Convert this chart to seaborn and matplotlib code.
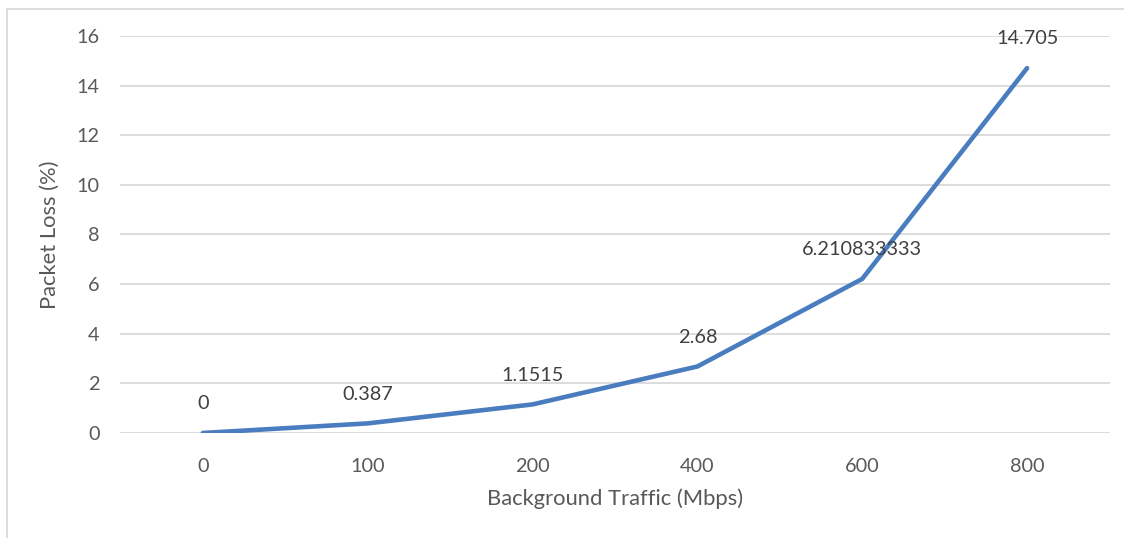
import matplotlib
matplotlib.use("Agg")
import matplotlib.pyplot as plt
import matplotlib.patches as mpatches
import pandas as pd
import seaborn as sns

# Data
traffic = ["0", "100", "200", "400", "600", "800"]
packet_loss = [0, 0.387, 1.1515, 2.68, 6.210833333, 14.705]
point_labels = ["0", "0.387", "1.1515", "2.68", "6.210833333", "14.705"]

df = pd.DataFrame({"traffic": traffic, "loss": packet_loss})

sns.set_style("white")
plt.rcParams['font.family'] = ['Lato', 'DejaVu Sans']

fig = plt.figure(figsize=(11.24, 5.38), dpi=100)
ax = fig.add_axes([0.1072, 0.1952, 0.8799, 0.7379])

sns.lineplot(data=df, x="traffic", y="loss", sort=False, ax=ax,
             color="#4A7DBF", linewidth=3.3, solid_capstyle="round")

for i, (y, lab) in enumerate(zip(packet_loss, point_labels)):
    ax.annotate(lab, (i, y), xytext=(0, 21), textcoords="offset points",
                ha="center", va="center", fontsize=14.3, color="#404040")

ax.set_xlim(-0.5, len(traffic) - 0.5)
ax.set_ylim(0, 16)
ax.set_yticks(range(0, 17, 2))
ax.grid(axis="y", color="#D9D9D9", linewidth=1.3)
ax.set_axisbelow(True)
for side in ["top", "right", "left", "bottom"]:
    ax.spines[side].set_visible(False)
ax.tick_params(axis="both", length=0, labelsize=14.3, labelcolor="#595959")
ax.tick_params(axis="x", pad=18)
ax.tick_params(axis="y", pad=15)

ax.set_xlabel("Background Traffic (Mbps)", fontsize=15.8, color="#595959", labelpad=10)
ax.set_ylabel("Packet Loss (%)", fontsize=15.8, color="#595959", labelpad=12)

# chart frame border (runs off the right and bottom edges)
frame = mpatches.Rectangle((7 / 1124, -0.1), 1.2, 1 - 9 / 538 + 0.1,
                           transform=fig.transFigure, fill=False,
                           edgecolor="#D9D9D9", linewidth=1.3, clip_on=False)
fig.patches.append(frame)

fig.savefig("out.png", dpi=100)
